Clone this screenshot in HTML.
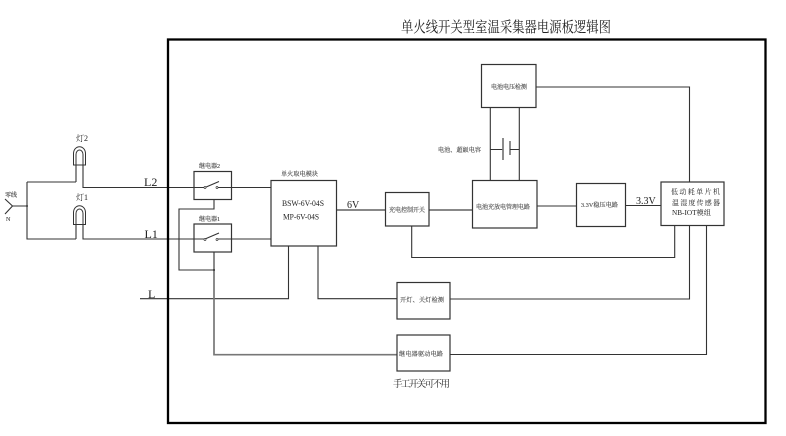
<!DOCTYPE html>
<html>
<head>
<meta charset="utf-8">
<style>
html,body{margin:0;padding:0;background:#fff;width:786px;height:436px;overflow:hidden}
svg{display:block;filter:blur(.35px)}
text{font-family:"Liberation Serif","Noto Serif CJK SC",serif;fill:#222}
.l{fill:none;stroke:#333;stroke-width:1.1}
.g{fill:none;stroke:#777;stroke-width:1.7}
.b{fill:#fff;stroke:#333;stroke-width:1.2}
.s{font-size:6.1px;fill:#444;stroke:#444;stroke-width:.12}
</style>
</head>
<body>
<svg width="786" height="436" viewBox="0 0 786 436" xmlns="http://www.w3.org/2000/svg">
<text x="401" y="32" font-size="15" textLength="210" lengthAdjust="spacingAndGlyphs">单火线开关型室温采集器电源板逻辑图</text>

<!-- wires -->
<path class="l" d="M5 199L12.500 206L5 214M12.500 206H27M27 182V239H76M27 182H76M76 165V182M83 165V187.500H205M217 187.500H271M76 225V239M83 225V239H205M217 239H271"/>
<path class="l" d="M140 298.700H288.500V246M214 199V209H179V270H214"/>
<path class="g" d="M214 252V354.700H397"/>
<path class="l" d="M318 246V298.700H397"/>
<path class="g" d="M337 210H385M429 210H472"/>
<path class="l" d="M411.700 226V257.500H674.700V225M537 206H576M626 205.500H661M536 87H689.500V182"/>
<path class="l" d="M490.300 107V180M519.300 107V180M490.300 149.500H503M510 149.500H519.300"/>
<path class="g" d="M503 138V160"/>
<path class="l" d="M510 141V155"/>
<path class="l" d="M450 299H689.500V225M450 354.500H706.500V225"/>

<!-- outer frame -->
<rect x="168" y="39.500" width="597.500" height="383.500" fill="none" stroke="#000" stroke-width="2.300"/>

<!-- lamps -->
<path d="M73.500 165V153.500A6 6.800 0 0 1 85.500 153.500V165Z" fill="none" stroke="#333" stroke-width="1"/>
<path d="M76 165V154.500A3.500 4.500 0 0 1 83 154.500V165" fill="none" stroke="#333" stroke-width="1"/>
<path d="M73.500 224.500V212.500A6 6.800 0 0 1 85.500 212.500V224.500Z" fill="none" stroke="#333" stroke-width="1"/>
<path d="M76 224.500V213.500A3.500 4.500 0 0 1 83 213.500V224.500" fill="none" stroke="#333" stroke-width="1"/>
<circle cx="27" cy="206" r="1" fill="#333"/>
<circle cx="214" cy="270" r="1" fill="#333"/>

<!-- relays -->
<rect class="b" x="194" y="171.500" width="37.500" height="28"/>
<rect class="b" x="194" y="224" width="37.500" height="28"/>
<path class="l" d="M190 187.500H205M217 187.500H231.500M190 239H205M217 239H231.500"/>
<path class="l" d="M205 187.500L219 181.500M205 239L219 233"/>
<circle cx="205" cy="187.500" r="1" fill="#fff" stroke="#333" stroke-width=".7"/>
<circle cx="217" cy="187.500" r="1" fill="#fff" stroke="#333" stroke-width=".7"/>
<circle cx="205" cy="239.500" r="1" fill="#fff" stroke="#333" stroke-width=".7"/>
<circle cx="217" cy="239.500" r="1" fill="#fff" stroke="#333" stroke-width=".7"/>

<!-- boxes -->
<rect class="b" x="271" y="180.500" width="65.500" height="65.500"/>
<rect class="b" x="385.500" y="192.500" width="43.500" height="33.500"/>
<rect class="b" x="472.500" y="180.500" width="64.500" height="47.500"/>
<rect class="b" x="481.500" y="64.500" width="54.500" height="43"/>
<rect class="b" x="576.500" y="183.500" width="49" height="43"/>
<rect class="b" x="661" y="182" width="63" height="43.500"/>
<rect class="b" x="397" y="282.500" width="53" height="36.500"/>
<rect class="b" x="397" y="335" width="53" height="36"/>

<!-- labels -->
<text x="5" y="197" class="s" textLength="12">零线</text>
<text x="6" y="221" class="s">N</text>
<text x="76" y="141" font-size="8">灯2</text>
<text x="76" y="200" font-size="8">灯1</text>
<text x="144" y="186" font-size="12">L2</text>
<text x="144.500" y="238" font-size="12">L1</text>
<text x="148" y="298" font-size="12">L</text>
<text x="199" y="168" class="s" textLength="21">继电器2</text>
<text x="199" y="221" class="s" textLength="21">继电器1</text>
<text x="281" y="176" class="s" textLength="37">单火取电模块</text>
<text x="282" y="206" font-size="8" textLength="42" lengthAdjust="spacingAndGlyphs">BSW-6V-04S</text>
<text x="283" y="219.500" font-size="8" textLength="36" lengthAdjust="spacingAndGlyphs">MP-6V-04S</text>
<text x="347" y="208" font-size="10">6V</text>
<text x="389" y="212" class="s" textLength="36">充电控制开关</text>
<text x="476" y="209" class="s" textLength="54">电池充放电管理电路</text>
<text x="491" y="89" class="s" textLength="36">电池电压检测</text>
<text x="438" y="152" class="s" textLength="43">电池、超級电容</text>
<text x="581" y="207" class="s" textLength="37">3.3V稳压电路</text>
<text x="636" y="204" font-size="10">3.3V</text>
<text x="671" y="194" font-size="7" textLength="49">低动耗单片机</text>
<text x="672" y="205" font-size="7" textLength="48">温湿度传感器</text>
<text x="672" y="215" font-size="7" textLength="39" lengthAdjust="spacingAndGlyphs">NB-IOT模组</text>
<text x="400" y="302" class="s" textLength="44">开灯、关灯检测</text>
<text x="399" y="356" class="s" textLength="44">继电器驱动电路</text>
<text x="393" y="387" font-size="9.500" textLength="57">手工开关可不用</text>
</svg>
</body>
</html>
